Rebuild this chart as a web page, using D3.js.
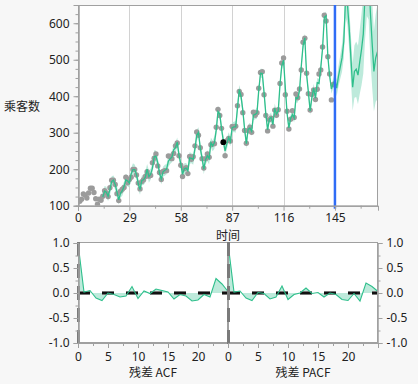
<!DOCTYPE html>
<html>
<head>
<meta charset="utf-8">
<script src="https://cdn.jsdelivr.net/npm/d3@7"></script>
<style>
  body { margin: 0; background: #f7f7f7; }
  svg text { font-family: "Noto Sans", "Noto Sans CJK SC", sans-serif; font-size: 12px; fill: #222; }
  .cjk { font-family: "Noto Sans CJK SC", sans-serif; }
</style>
</head>
<body>
<div id="canvas"></div>
<script>
// monthly passengers, t = 1..144
let passengers = [
  112, 118, 132, 129, 121, 135, 148, 148, 136, 119, 104, 118,
  115, 126, 141, 135, 125, 149, 170, 170, 158, 133, 114, 140,
  145, 150, 178, 163, 172, 178, 199, 199, 184, 162, 146, 166,
  171, 180, 193, 181, 183, 218, 230, 242, 209, 191, 172, 194,
  196, 196, 236, 235, 229, 243, 264, 272, 237, 211, 180, 201,
  204, 188, 235, 227, 234, 264, 302, 293, 259, 229, 203, 229,
  242, 233, 267, 269, 270, 315, 364, 347, 312, 274, 237, 278,
  284, 277, 317, 313, 318, 374, 413, 405, 355, 306, 271, 306,
  315, 301, 356, 348, 355, 422, 465, 467, 404, 347, 305, 336,
  340, 318, 362, 348, 363, 435, 491, 505, 404, 359, 310, 337,
  360, 342, 406, 396, 420, 472, 548, 559, 463, 407, 362, 405,
  417, 391, 419, 461, 472, 535, 622, 606, 508, 461, 390, 432
];

// one-step predictions, t = 14..144
let fitStart = 14;
let fitted = [
  124, 140, 137, 126, 144, 166, 170, 158, 137, 116, 134, 141,
  153, 171, 168, 162, 187, 199, 199, 186, 160, 144, 169, 171,
  178, 200, 180, 186, 203, 234, 236, 218, 189, 173, 193, 197,
  200, 222, 229, 233, 253, 259, 274, 238, 215, 186, 201, 203,
  196, 231, 230, 227, 256, 293, 301, 258, 231, 200, 226, 237,
  229, 273, 264, 273, 307, 358, 351, 312, 278, 250, 270, 287,
  276, 314, 316, 316, 368, 418, 400, 362, 311, 270, 309, 313,
  304, 348, 350, 354, 416, 463, 462, 410, 351, 308, 338, 342,
  322, 367, 351, 359, 432, 484, 499, 423, 353, 313, 339, 350,
  340, 396, 394, 415, 482, 538, 560, 460, 412, 360, 397, 422,
  395, 437, 435, 478, 530, 616, 620, 509, 456, 420, 435
];
let fitBand = [
  12, 14, 15, 13, 16, 15, 13, 15, 16, 13, 12, 14,
  13, 16, 15, 13, 16, 17, 14, 13, 16, 14, 13, 14,
  15, 14, 17, 15, 14, 18, 15, 14, 13, 15, 14, 15,
  14, 16, 15, 14, 17, 15, 13, 14, 15, 13, 15, 14,
  15, 16, 14, 15, 17, 15, 14, 13, 15, 14, 13, 15,
  16, 14, 15, 17, 16, 15, 14, 13, 15, 14, 15, 14,
  13, 15, 14, 16, 15, 13, 14, 15, 13, 14, 13, 14,
  12, 14, 13, 15, 13, 12, 13, 14, 12, 13, 12, 13,
  12, 13, 12, 14, 13, 12, 13, 12, 13, 12, 11, 12,
  12, 13, 12, 13, 12, 11, 12, 11, 12, 12, 11, 12,
  12, 13, 12, 13, 12, 11, 12, 12, 11, 13, 13
];

// forecast, t = 145..169
let forecastStart = 145;
let forecast = [
  445, 422, 455, 480, 505, 550, 670, 655, 590, 505, 425, 468,
  474, 458, 494, 528, 570, 680, 760, 750, 630, 545, 468, 505, 522
];
let forecastBand = [
  18, 22, 28, 32, 38, 45, 55, 58, 60, 62, 65, 72,
  76, 80, 88, 98, 108, 125, 140, 140, 130, 120, 110, 120, 130
];

let selectedTime = 82;
let timeTicks = [0, 29, 58, 87, 116, 145];
let countTicks = [100, 200, 300, 400, 500, 600];

// residual correlations, lag 0..25
let acf = [
  1.0, 0.02, 0.05, -0.10, -0.15, 0.0, -0.03, -0.08, -0.06, 0.13, -0.11, 0.04, -0.01,
  0.08, 0.05, 0.02, -0.12, -0.03, -0.06, -0.16, -0.14, -0.03, -0.08, 0.29, 0.18, 0.03
];
let pacf = [
  1.0, 0.02, 0.04, -0.10, -0.15, 0.01, -0.01, -0.12, -0.08, 0.14, -0.13, -0.03, 0.0,
  0.10, -0.01, 0.01, -0.08, 0.0, -0.03, -0.13, -0.15, -0.01, -0.16, 0.20, 0.13, 0.03
];
let corrTicks = [-1, -0.5, 0, 0.5, 1];
let lagTicks = [0, 5, 10, 15, 20];

let green = "#2fbf8c";
let greenLight = "#bdeadb";
let frameColor = "#a0a0a0";

let svg = d3
  .select("#canvas")
  .append("svg")
  .attr("width", 418)
  .attr("height", 384)
  .style("background", "#f7f7f7");

// ---------- main series plot ----------
let plot = { left: 78, right: 378, top: 5, bottom: 205.7 };

let x = d3.scaleLinear().domain([0, 169.3]).range([plot.left, plot.right]);
let y = d3.scaleLinear().domain([100, 650]).range([plot.bottom, plot.top]);

svg.append("rect")
  .attr("x", plot.left).attr("y", plot.top)
  .attr("width", plot.right - plot.left).attr("height", plot.bottom - plot.top)
  .attr("fill", "#fff");

svg.append("clipPath").attr("id", "clipMain")
  .append("rect")
  .attr("x", plot.left).attr("y", plot.top)
  .attr("width", plot.right - plot.left).attr("height", plot.bottom - plot.top);

svg.append("g")
  .selectAll("line")
  .data(timeTicks.slice(1, -1))
  .join("line")
  .attr("x1", (d) => Math.round(x(d)) + 0.5)
  .attr("x2", (d) => Math.round(x(d)) + 0.5)
  .attr("y1", plot.top)
  .attr("y2", plot.bottom)
  .attr("stroke", "#d2d2d2");

let pred = fitted.concat(forecast).map((v, i) => ({
  t: fitStart + i,
  v: v,
  hw: i < fitted.length ? fitBand[i] : forecastBand[i - fitted.length],
}));

let main = svg.append("g").attr("clip-path", "url(#clipMain)");

main.append("path")
  .datum(pred)
  .attr("fill", greenLight)
  .attr("d", d3.area()
    .x((d) => x(d.t))
    .y0((d) => y(d.v - d.hw))
    .y1((d) => y(d.v + d.hw)));

let pts = passengers.map((v, i) => ({ t: i + 1, v: v }));

main.selectAll("circle.obs")
  .data(pts.filter((d) => d.t !== selectedTime))
  .join("circle")
  .attr("class", "obs")
  .attr("cx", (d) => x(d.t))
  .attr("cy", (d) => y(d.v))
  .attr("r", 2.7)
  .attr("fill", "#9b9b9b");

main.append("path")
  .datum(pred)
  .attr("fill", "none")
  .attr("stroke", green)
  .attr("stroke-width", 1.3)
  .attr("d", d3.line().x((d) => x(d.t)).y((d) => y(d.v)));

main.selectAll("circle.sel")
  .data(pts.filter((d) => d.t === selectedTime))
  .join("circle")
  .attr("class", "sel")
  .attr("cx", (d) => x(d.t))
  .attr("cy", (d) => y(d.v))
  .attr("r", 2.9)
  .attr("fill", "#000");

svg.append("rect")
  .attr("x", plot.left + 0.5).attr("y", plot.top + 0.5)
  .attr("width", plot.right - plot.left - 1).attr("height", plot.bottom - plot.top)
  .attr("fill", "none")
  .attr("stroke", frameColor);

svg.append("line")
  .attr("x1", x(forecastStart)).attr("x2", x(forecastStart))
  .attr("y1", plot.top).attr("y2", plot.bottom + 3)
  .attr("stroke", "#2f6cf6")
  .attr("stroke-width", 2.5);

let styleAxis = (g) => {
  g.select(".domain").attr("stroke", frameColor);
  g.selectAll(".tick line").attr("stroke", frameColor);
  g.selectAll(".tick text").attr("fill", "#222").style("font-size", "12px")
    .style("font-family", '"Noto Sans", sans-serif');
};

svg.append("g")
  .attr("transform", `translate(${plot.left + 0.5},0)`)
  .call(d3.axisLeft(y).tickValues(d3.range(100, 651, 25)).tickSize(3).tickFormat(""))
  .call(styleAxis);
svg.append("g")
  .attr("transform", `translate(${plot.left + 0.5},0)`)
  .call(d3.axisLeft(y).tickValues(countTicks).tickSize(5).tickPadding(4))
  .call(styleAxis);

svg.append("g")
  .attr("transform", `translate(0,${plot.bottom})`)
  .call(d3.axisBottom(x).tickValues(timeTicks.map((d) => d + 14.5)).tickSize(3).tickFormat(""))
  .call(styleAxis);
svg.append("g")
  .attr("transform", `translate(0,${plot.bottom})`)
  .call(d3.axisBottom(x).tickValues(timeTicks).tickSize(5).tickPadding(3))
  .call(styleAxis);

svg.append("text")
  .attr("class", "cjk")
  .attr("x", 4).attr("y", 111)
  .text("乘客数");

svg.append("text")
  .attr("class", "cjk")
  .attr("x", (plot.left + plot.right) / 2).attr("y", 239.5)
  .attr("text-anchor", "middle")
  .text("时间");

// ---------- residual ACF / PACF ----------
let corrTop = 243, corrBottom = 343;
let cy = d3.scaleLinear().domain([-1, 1]).range([corrBottom, corrTop]);

let drawCorr = (values, x0, x1, rightSide, title) => {
  let lx = d3.scaleLinear().domain([0, 25]).range([x0, x1]);
  let data = values.map((v, i) => ({ lag: i, v: v }));
  let g = svg.append("g");

  g.append("rect")
    .attr("x", x0).attr("y", corrTop)
    .attr("width", x1 - x0).attr("height", corrBottom - corrTop)
    .attr("fill", "#fff");

  g.append("path")
    .datum(data)
    .attr("fill", greenLight)
    .attr("d", d3.area().x((d) => lx(d.lag)).y0(cy(0)).y1((d) => cy(d.v)));

  g.append("line")
    .attr("x1", x0).attr("x2", x1)
    .attr("y1", cy(0)).attr("y2", cy(0))
    .attr("stroke", "#777").attr("stroke-width", 4)
    .attr("stroke-dasharray", "12,12");
  g.append("line")
    .attr("x1", x0).attr("x2", x1)
    .attr("y1", cy(0)).attr("y2", cy(0))
    .attr("stroke", "#111").attr("stroke-width", 2)
    .attr("stroke-dasharray", "12,12");

  g.append("path")
    .datum(data)
    .attr("fill", "none")
    .attr("stroke", green)
    .attr("stroke-width", 1.1)
    .attr("d", d3.line().x((d) => lx(d.lag)).y((d) => cy(d.v)));

  g.append("rect")
    .attr("x", x0 + 0.5).attr("y", corrTop - 0.5)
    .attr("width", x1 - x0 - 1).attr("height", corrBottom - corrTop)
    .attr("fill", "none")
    .attr("stroke", frameColor);

  g.append("line")
    .attr("x1", lx(0) + 0.5).attr("x2", lx(0) + 0.5)
    .attr("y1", corrTop - 1).attr("y2", corrBottom + 4)
    .attr("stroke", "#7a7a7a").attr("stroke-width", 3)
    .attr("stroke-dasharray", "14,8");

  g.append("g")
    .attr("transform", `translate(0,${corrBottom})`)
    .call(d3.axisBottom(lx).tickValues(d3.range(0, 25.1, 2.5)).tickSize(3).tickFormat(""))
    .call(styleAxis);
  g.append("g")
    .attr("transform", `translate(0,${corrBottom})`)
    .call(d3.axisBottom(lx).tickValues(lagTicks).tickSize(5).tickPadding(4))
    .call(styleAxis);

  let side = rightSide ? d3.axisRight : d3.axisLeft;
  let ax = rightSide ? x1 - 0.5 : x0 + 0.5;
  g.append("g")
    .attr("transform", `translate(${ax},0)`)
    .call(side(cy).tickValues(d3.range(-1, 1.01, 0.25)).tickSize(3).tickFormat(""))
    .call(styleAxis);
  g.append("g")
    .attr("transform", `translate(${ax},0)`)
    .call(side(cy).tickValues(corrTicks).tickSize(5).tickPadding(4).tickFormat((d) => d.toFixed(1)))
    .call(styleAxis);

  g.append("text")
    .attr("class", "cjk")
    .attr("x", (x0 + x1) / 2).attr("y", 377)
    .attr("text-anchor", "middle")
    .text(title);
};

drawCorr(acf, 78, 228, false, "残差 ACF");
drawCorr(pacf, 228, 378, true, "残差 PACF");
</script>
</body>
</html>
